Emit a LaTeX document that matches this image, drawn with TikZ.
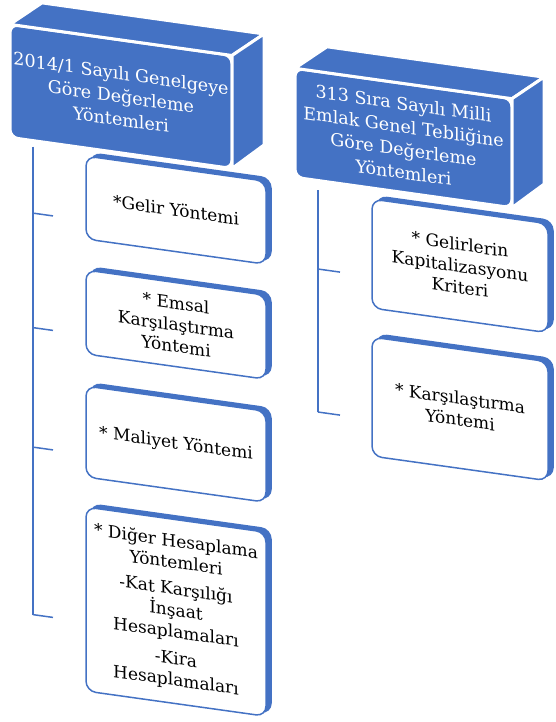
\documentclass[tikz,border=0pt]{standalone}
\usepackage{fontspec}
\setmainfont{DejaVu Serif}
\usetikzlibrary{calc, shadows}
\definecolor{hblue}{HTML}{4472C4}

\begin{document}
\begin{tikzpicture}[x=1pt, y=-1pt,
    head/.style={fill=hblue, draw=white, line width=3pt, rounded corners=8pt, text=white, align=center, inner sep=0pt, outer sep=0pt, transform shape, font=\fontsize{17.5}{23}\selectfont},
    face/.style={fill=hblue, draw=white, line width=3pt, line join=round},
    item/.style={fill=white, draw=hblue, line width=1.5pt, rounded corners=10pt, align=center, inner sep=0pt, outer sep=0pt, transform shape, font=\fontsize{17}{21.5}\selectfont, copy shadow={shadow xshift=5pt, shadow yshift=3pt, fill=hblue, draw=hblue}},
    conn/.style={draw=hblue, line width=1.5pt}]

\useasboundingbox (0,0) rectangle (555,722);

\begin{scope}[yslant=-0.14]

% left
\node[head, minimum width=222pt, minimum height=113pt] (l-head) at (121,79.5) {2014/1 Sayılı Genelgeye\\Göre Değerleme\\Yöntemleri};
\draw[face] (l-head.north west) -- (l-head.north east) -- ++(32,-26) -- ($(l-head.north west)+(32,-26)$) -- cycle;
\draw[face] (l-head.north east) -- ++(32,-26) -- ($(l-head.south east)+(32,-28)$) -- (l-head.south east) -- cycle;

\node[item, minimum width=180pt, minimum height=83pt] (l-1) at (176,185.5) {*Gelir Yöntemi};
\node[item, minimum width=180pt, minimum height=84pt] (l-2) at (176,300) {* Emsal\\Karşılaştırma\\Yöntemi};
\node[item, minimum width=180pt, minimum height=91pt] (l-3) at (176,419.5) {* Maliyet Yöntemi};
\node[item, minimum width=180pt, minimum height=184pt] (l-4) at (176,587) {* Diğer Hesaplama\\Yöntemleri\\[5pt]-Kat Karşılığı\\İnşaat\\Hesaplamaları\\[5pt]-Kira\\Hesaplamaları};

% right
\node[head, minimum width=217pt, minimum height=109pt] (r-head) at (403.5,81.5) {313 Sıra Sayılı Milli\\Emlak Genel Tebliğine\\Göre Değerleme\\Yöntemleri};
\draw[face] (r-head.north west) -- (r-head.north east) -- ++(32,-26) -- ($(r-head.north west)+(32,-26)$) -- cycle;
\draw[face] (r-head.north east) -- ++(32,-26) -- ($(r-head.south east)+(32,-28)$) -- (r-head.south east) -- cycle;

\node[item, minimum width=176pt, minimum height=109pt] (r-1) at (460,201.5) {* Gelirlerin\\Kapitalizasyonu\\Kriteri};
\node[item, minimum width=176pt, minimum height=119pt] (r-2) at (460,344.5) {* Karşılaştırma\\Yöntemi};

% connectors
\foreach \i in {1,...,4} {
    \coordinate (l-\i-s) at ($(l-\i.west)+(-53,23)$);
    \coordinate (l-\i-e) at ($(l-\i.west)+(-33,23)$);
    \draw[conn] (l-\i-s) -- (l-\i-e);
}
\coordinate (l-top) at ($(l-head.south west)+(23,6)$);
\draw[conn] (l-top) -- (l-4-s);

\foreach \i in {1,2} {
    \coordinate (r-\i-s) at ($(r-\i.west)+(-54,23)$);
    \coordinate (r-\i-e) at ($(r-\i.west)+(-32,23)$);
    \draw[conn] (r-\i-s) -- (r-\i-e);
}
\coordinate (r-top) at ($(r-head.south west)+(23,9.5)$);
\draw[conn] (r-top) -- (r-2-s);

\end{scope}

\end{tikzpicture}
\end{document}
